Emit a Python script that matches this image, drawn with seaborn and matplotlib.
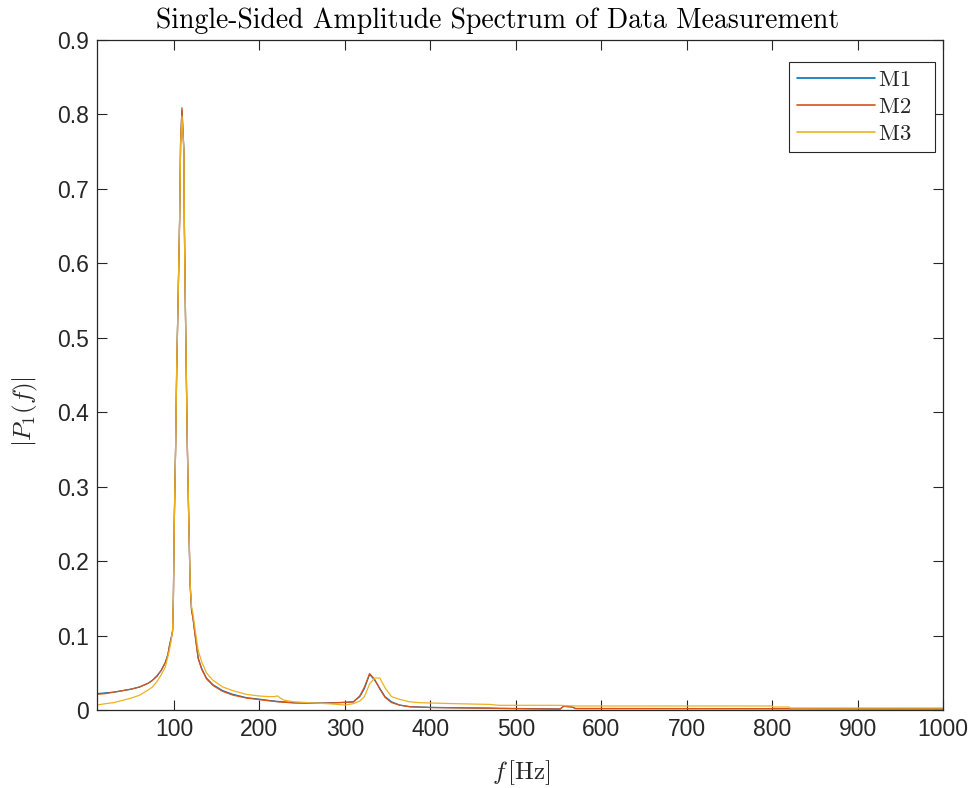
import numpy as np
import pandas as pd
import matplotlib
matplotlib.use("Agg")
import matplotlib.pyplot as plt
import seaborn as sns

# Frequency axis (Hz) shared by the three measurements
freq = [10, 20, 30, 40, 50, 60, 70, 75, 80, 85, 90, 93, 95, 97, 98.5,
        99.4, 100.4, 102, 103.2, 105, 106.7, 107.8, 109.4, 111.7, 112.2,
        113.2, 114.4, 115.6, 117.2, 119, 120.7, 122.2, 124.6, 128.4, 132.4,
        138, 145.6, 157, 169, 185, 198, 210, 218, 221, 228, 240, 262, 280,
        300, 310, 317.5, 323, 329, 335, 341, 347, 354.6, 364, 376, 388, 400,
        430, 470, 480, 552, 556, 566, 570, 800, 801, 820, 821, 1000]

# Single-sided amplitude |P1(f)| of each measurement
m1 = [0.022, 0.023, 0.024, 0.026, 0.028, 0.031, 0.036, 0.040, 0.045, 0.053,
      0.064, 0.075, 0.088, 0.098, 0.107,
      0.152, 0.253, 0.354, 0.454, 0.558, 0.659, 0.760, 0.806, 0.753, 0.656,
      0.560, 0.461, 0.363, 0.266, 0.168, 0.134, 0.125, 0.103, 0.070, 0.056,
      0.043, 0.034, 0.026, 0.021, 0.0165, 0.0148, 0.013, 0.012, 0.0115,
      0.011, 0.0098, 0.0092, 0.0095, 0.0103, 0.011, 0.018, 0.029, 0.048,
      0.040, 0.029, 0.018, 0.011, 0.0067, 0.0045, 0.004, 0.0035,
      0.003, 0.0025, 0.0022, 0.0014, 0.005, 0.004, 0.002, 0.0018, 0.0018,
      0.0018, 0.0017, 0.0015]

m2 = [0.021, 0.022, 0.024, 0.026, 0.028, 0.031, 0.036, 0.040, 0.046, 0.053,
      0.064, 0.074, 0.087, 0.097, 0.106,
      0.150, 0.250, 0.352, 0.452, 0.556, 0.658, 0.762, 0.809, 0.748, 0.654,
      0.558, 0.460, 0.362, 0.265, 0.167, 0.133, 0.124, 0.102, 0.069, 0.055,
      0.042, 0.033, 0.025, 0.020, 0.016, 0.0142, 0.0125, 0.0115, 0.011,
      0.0105, 0.0095, 0.009, 0.0093, 0.0101, 0.0108, 0.019, 0.031, 0.049,
      0.041, 0.028, 0.017, 0.010, 0.0065, 0.0043, 0.0038, 0.0033,
      0.0029, 0.0024, 0.0021, 0.0013, 0.005, 0.0042, 0.0019, 0.0018, 0.0018,
      0.0018, 0.0017, 0.0015]

m3 = [0.0067, 0.0085, 0.010, 0.013, 0.016, 0.020, 0.027, 0.031, 0.038, 0.047,
      0.058, 0.072, 0.082, 0.095, 0.108,
      0.150, 0.252, 0.353, 0.455, 0.557, 0.660, 0.758, 0.798, 0.752, 0.657,
      0.561, 0.462, 0.364, 0.268, 0.170, 0.138, 0.130, 0.110, 0.080, 0.065,
      0.050, 0.040, 0.031, 0.026, 0.021, 0.019, 0.018, 0.018, 0.019,
      0.0135, 0.011, 0.0095, 0.0085, 0.0067, 0.0085, 0.012, 0.018, 0.035,
      0.043, 0.043, 0.030, 0.018, 0.0143, 0.011, 0.0098, 0.0094,
      0.0085, 0.0075, 0.0063, 0.0063, 0.006, 0.0055, 0.0054, 0.0054, 0.004,
      0.004, 0.0027, 0.0027]

series_names = ["M1", "M2", "M3"]
series_colors = ["#0072BD", "#D95319", "#EDB120"]

x_ticks = [100, 200, 300, 400, 500, 600, 700, 800, 900, 1000]
y_ticks = [0, 0.1, 0.2, 0.3, 0.4, 0.5, 0.6, 0.7, 0.8, 0.9]
y_tick_labels = ["0", "0.1", "0.2", "0.3", "0.4", "0.5", "0.6", "0.7", "0.8", "0.9"]

df = pd.concat([
    pd.DataFrame({"f": freq, "P1": vals, "meas": name})
    for name, vals in zip(series_names, [m1, m2, m3])
], ignore_index=True)

sns.set_theme(style="white")
plt.rcParams["mathtext.fontset"] = "cm"
plt.rcParams["font.family"] = ["Liberation Sans", "DejaVu Sans"]

fig = plt.figure(figsize=(9.76, 7.88), dpi=100)
ax = fig.add_axes([97 / 976, 1 - 710 / 788, (943 - 97) / 976, (710 - 40) / 788])

sns.lineplot(data=df, x="f", y="P1", hue="meas", hue_order=series_names,
             palette=dict(zip(series_names, series_colors)),
             estimator=None, sort=False, linewidth=0.9, ax=ax)

ax.set_xlim(10, 1000)
ax.set_ylim(0, 0.9)
ax.set_xticks(x_ticks)
ax.set_xticklabels([str(t) for t in x_ticks])
ax.set_yticks(y_ticks)
ax.set_yticklabels(y_tick_labels)

axis_gray = "#262626"
for side in ["left", "right", "top", "bottom"]:
    ax.spines[side].set_visible(True)
    ax.spines[side].set_color(axis_gray)
    ax.spines[side].set_linewidth(0.9)
ax.tick_params(axis="both", which="major", direction="in", length=7, width=0.8,
               top=True, right=True, bottom=True, left=True,
               colors=axis_gray, labelsize=16.5, pad=6)

ax.set_xlabel(r"$f\,[\mathrm{Hz}]$", fontsize=18, color=axis_gray)
ax.set_ylabel(r"$|P_1(f)|$", fontsize=18, color=axis_gray)
ax.xaxis.set_label_coords(0.502, -0.072)
ax.yaxis.set_label_coords(-0.067, 0.445)

ax.set_title("Single-Sided Amplitude Spectrum of Data Measurement",
             fontfamily="cmr10", fontsize=20, color="black", x=0.474, pad=9)

handles, labels = ax.get_legend_handles_labels()
leg = ax.legend(handles, [lab + "  " for lab in labels],
                loc="upper right", bbox_to_anchor=((935 - 97) / 846, 1 - 22 / 670),
                borderaxespad=0, frameon=True, fancybox=False, shadow=False,
                handlelength=3.4, handletextpad=0.2, labelspacing=0.3,
                borderpad=0.35, prop={"family": "cmr10", "size": 16.5})
leg.get_frame().set_edgecolor(axis_gray)
leg.get_frame().set_linewidth(0.8)
leg.get_frame().set_alpha(1)
for line in leg.get_lines():
    line.set_linewidth(1.2)

fig.savefig("out.png", dpi=100, facecolor="white")
